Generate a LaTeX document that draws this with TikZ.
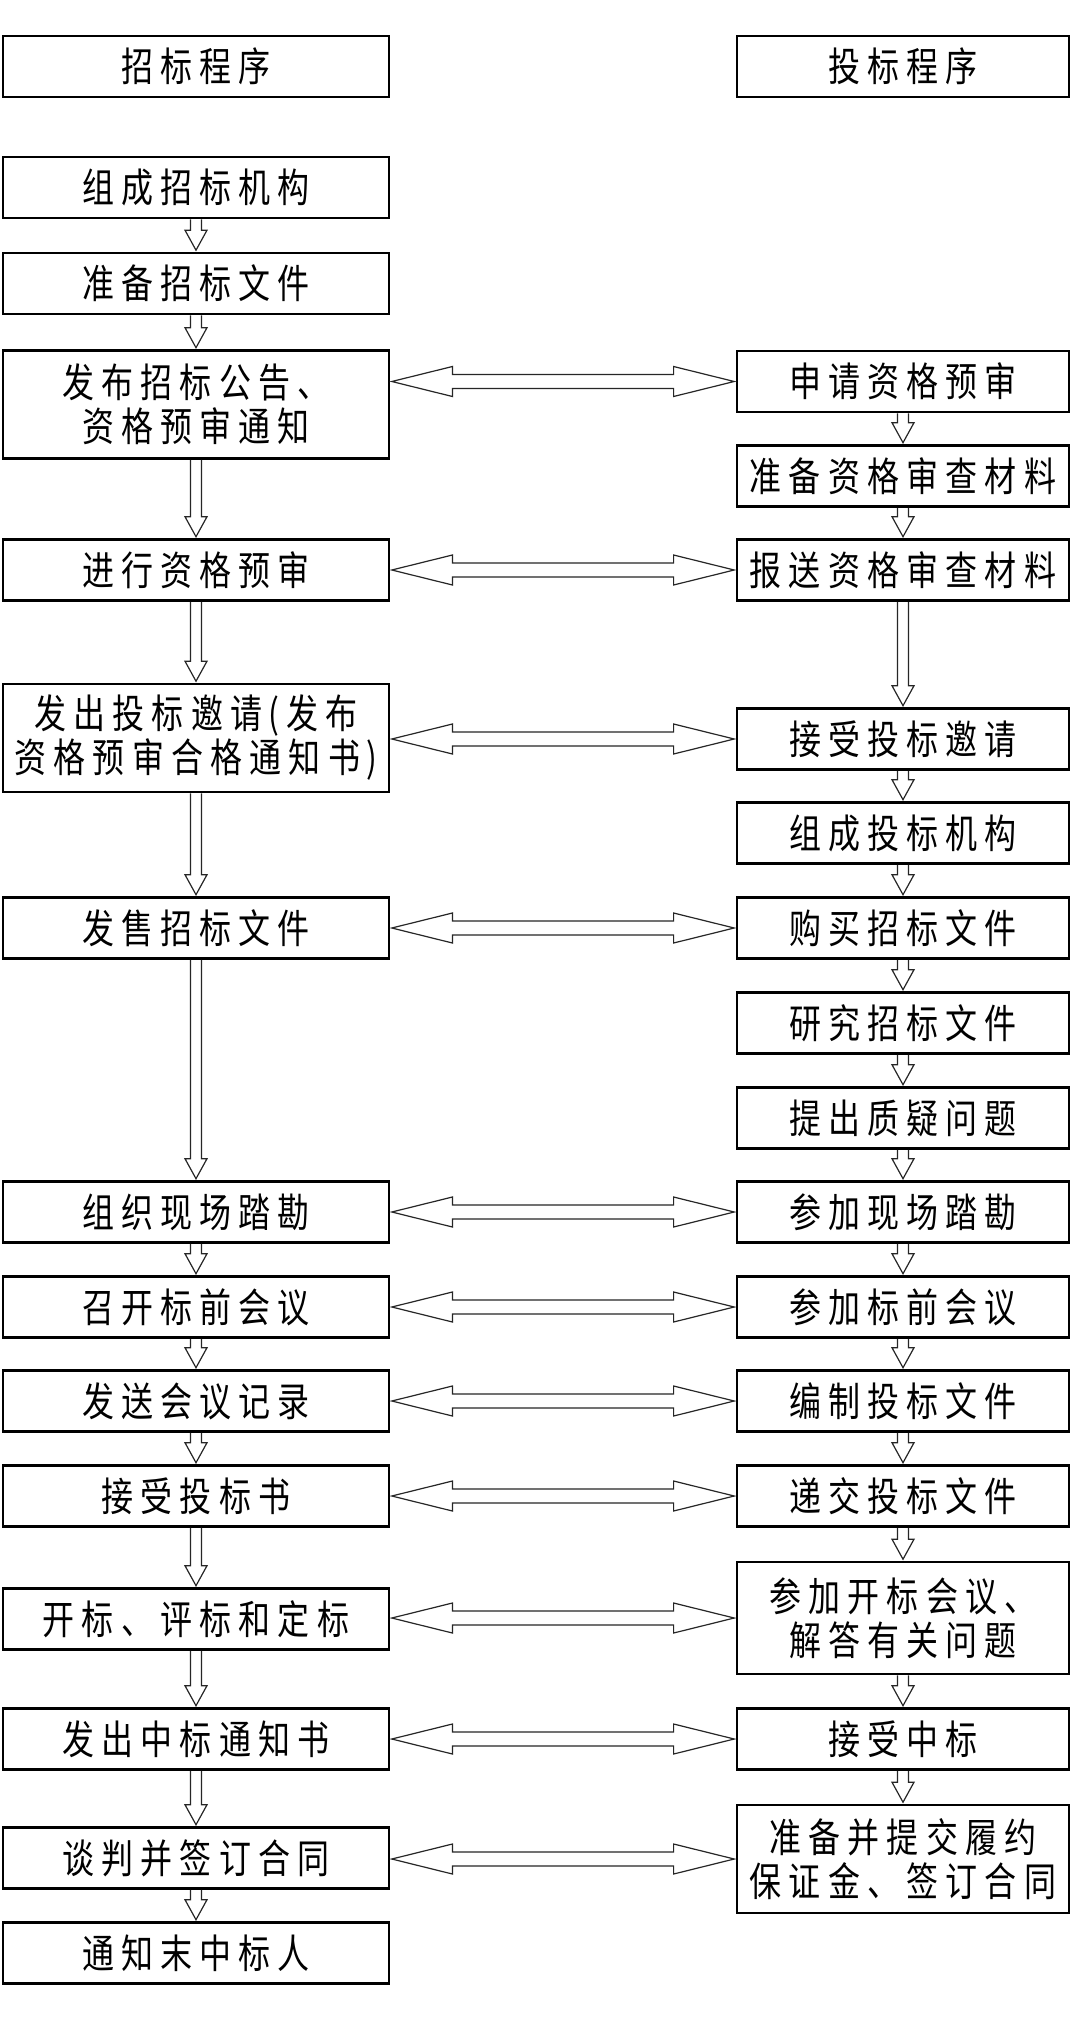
\documentclass[tikz,border=0pt]{standalone}
\usepackage{fontspec}
\newfontfamily\cjk[FakeStretch=0.8,LetterSpace=18]{Noto Sans CJK SC}
\usetikzlibrary{calc}
\tikzset{
  box/.style={draw=black, line width=2.8pt, rectangle, inner sep=0pt, align=center,
    font=\cjk\fontsize{40}{44}\selectfont},
  lbox/.style={box, minimum width=386pt},
  rbox/.style={box, minimum width=332pt},
  sgl/.style={minimum height=61pt},
  dbl/.style={minimum height=108pt},
  arrline/.style={draw=black!85, line width=1.2pt, line join=miter}
}
\newcommand\varr[2]{\draw[arrline] let \p1=(#1.south), \p2=(#2.north) in
  (\x1-5.5pt,\y1) -- (\x1-5.5pt,\y2+21.4pt) -- (\x1-11pt,\y2+21.4pt) -- (\x1,\y2+1.4pt)
  -- (\x1+11pt,\y2+21.4pt) -- (\x1+5.5pt,\y2+21.4pt) -- (\x1+5.5pt,\y1);}
\newcommand\harr[2]{\draw[arrline] let \p1=(#1.east), \p2=(#2.west) in
  (\x1+1.4pt,\y2) -- (\x1+62pt,\y2+15pt) -- (\x1+62pt,\y2+7pt) -- (\x2-62pt,\y2+7pt)
  -- (\x2-62pt,\y2+15pt) -- (\x2-1.4pt,\y2) -- (\x2-62pt,\y2-15pt) -- (\x2-62pt,\y2-7pt)
  -- (\x1+62pt,\y2-7pt) -- (\x1+62pt,\y2-15pt) -- cycle;}
\begin{document}
\begin{tikzpicture}[x=1pt,y=-1pt]
\useasboundingbox[fill=white] (0,0) rectangle (1071,2021);
% headings
\node[lbox,sgl] (hL) at (196,66.5) {招标程序};
\node[rbox,sgl] (hR) at (903,66.5) {投标程序};
% left column
\node[lbox,sgl] (L1) at (196,187.5) {组成招标机构};
\node[lbox,sgl] (L2) at (196,283.5) {准备招标文件};
\node[lbox,dbl] (L3) at (196,404.5) {发布招标公告、\\资格预审通知};
\node[lbox,sgl] (L4) at (196,570) {进行资格预审};
\node[lbox,dbl] (L5) at (196,738) {发出投标邀请\,(\,发布\\资格预审合格通知书\,)};
\node[lbox,sgl] (L6) at (196,928) {发售招标文件};
\node[lbox,sgl] (L7) at (196,1212) {组织现场踏勘};
\node[lbox,sgl] (L8) at (196,1307) {召开标前会议};
\node[lbox,sgl] (L9) at (196,1401) {发送会议记录};
\node[lbox,sgl] (L10) at (196,1496) {接受投标书};
\node[lbox,sgl] (L11) at (196,1619) {开标、评标和定标};
\node[lbox,sgl] (L12) at (196,1739) {发出中标通知书};
\node[lbox,sgl] (L13) at (196,1858) {谈判并签订合同};
\node[lbox,sgl] (L14) at (196,1953) {通知末中标人};
% right column
\node[rbox,sgl] (R1) at (903,381.5) {申请资格预审};
\node[rbox,sgl] (R2) at (903,476) {准备资格审查材料};
\node[rbox,sgl] (R3) at (903,570) {报送资格审查材料};
\node[rbox,sgl] (R4) at (903,739) {接受投标邀请};
\node[rbox,sgl] (R5) at (903,833) {组成投标机构};
\node[rbox,sgl] (R6) at (903,928) {购买招标文件};
\node[rbox,sgl] (R7) at (903,1023) {研究招标文件};
\node[rbox,sgl] (R8) at (903,1118) {提出质疑问题};
\node[rbox,sgl] (R9) at (903,1212) {参加现场踏勘};
\node[rbox,sgl] (R10) at (903,1307) {参加标前会议};
\node[rbox,sgl] (R11) at (903,1401) {编制投标文件};
\node[rbox,sgl] (R12) at (903,1496) {递交投标文件};
\node[rbox,minimum height=112pt] (R13) at (903,1618) {参加开标会议、\\解答有关问题};
\node[rbox,sgl] (R14) at (903,1739) {接受中标};
\node[rbox,dbl] (R15) at (903,1859) {准备并提交履约\\保证金、签订合同};
% vertical arrows left
\varr{L1}{L2}\varr{L2}{L3}\varr{L3}{L4}\varr{L4}{L5}\varr{L5}{L6}\varr{L6}{L7}
\varr{L7}{L8}\varr{L8}{L9}\varr{L9}{L10}\varr{L10}{L11}\varr{L11}{L12}\varr{L12}{L13}\varr{L13}{L14}
% vertical arrows right
\varr{R1}{R2}\varr{R2}{R3}\varr{R3}{R4}\varr{R4}{R5}\varr{R5}{R6}\varr{R6}{R7}\varr{R7}{R8}
\varr{R8}{R9}\varr{R9}{R10}\varr{R10}{R11}\varr{R11}{R12}\varr{R12}{R13}\varr{R13}{R14}\varr{R14}{R15}
% horizontal double arrows
\harr{L3}{R1}\harr{L4}{R3}\harr{L5}{R4}\harr{L6}{R6}\harr{L7}{R9}\harr{L8}{R10}
\harr{L9}{R11}\harr{L10}{R12}\harr{L11}{R13}\harr{L12}{R14}\harr{L13}{R15}
\end{tikzpicture}
\end{document}
